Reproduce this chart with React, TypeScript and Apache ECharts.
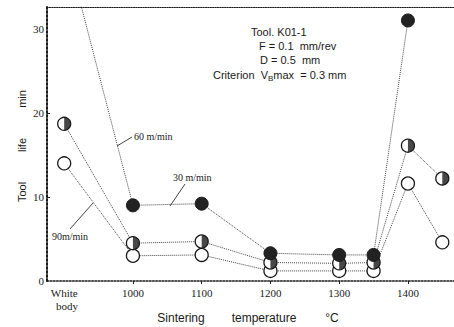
import React, { useEffect, useRef } from "react";
import * as echarts from "echarts";

// Sintering temperature (°C); 900 stands for "White body"
const temps = [900, 1000, 1100, 1200, 1300, 1350, 1400, 1450];
const xTickValues = [900, 1000, 1100, 1200, 1300, 1400];
const yTickValues = [0, 10, 20, 30];
// Tool life (min) for each cutting speed
const life30 = [40.5, 9.0, 9.2, 3.3, 3.1, 3.1, 31.0, null];
const life60 = [18.7, 4.5, 4.7, 2.2, 2.1, 2.2, 16.1, 12.2];
const life90 = [14.0, 3.0, 3.1, 1.2, 1.2, 1.2, 11.6, 4.6];

const pairs = (vals: (number | null)[]) =>
  temps.map((t, i) => [t, vals[i]]).filter((p) => p[1] !== null);

const INK = "#1a1a1a";
const LINE = "#444";

export default function App() {
  const ref = useRef<HTMLDivElement>(null);
  useEffect(() => {
    if (!ref.current) return;
    const chart = echarts.init(ref.current, null, { renderer: "svg" });
    const serif = "Liberation Serif";
    const sans = "Liberation Sans";
    const lineStyle = { color: LINE, width: 1, type: "dotted" as const };
    const txt = (text: string, x: number, y: number, size = 10, align = "left", rotation = 0, font = sans) => ({
      type: "text",
      x,
      y,
      rotation,
      silent: true,
      style: {
        text,
        fill: INK,
        font: `${size}px "${font}"`,
        align,
        verticalAlign: "middle",
        textAlign: align,
        textVerticalAlign: "middle",
      },
    });
    const leader = (x1: number, y1: number, x2: number, y2: number) => ({
      type: "line",
      silent: true,
      shape: { x1, y1, x2, y2 },
      style: { stroke: LINE, lineWidth: 1 },
    });
    chart.setOption({
      animation: false,
      backgroundColor: "#fff",
      grid: { left: 47, right: 0, top: 7, bottom: 46, outerBoundsMode: "none" },
      xAxis: [
        {
          type: "value",
          min: 875,
          max: 1467,
          splitLine: { show: false },
          axisLine: { show: true, lineStyle: { color: INK, width: 1.6, type: "dotted" } },
          axisTick: { show: true, customValues: xTickValues.slice(1), length: 3, lineStyle: { color: INK } },
          axisLabel: {
            customValues: xTickValues,
            color: INK,
            fontFamily: serif,
            fontSize: 11,
            margin: 5,
            lineHeight: 13,
            formatter: (v: number) => (v === 900 ? "White\n  body" : String(v)),
          },
        },
        {
          type: "value",
          position: "top",
          min: 875,
          max: 1467,
          splitLine: { show: false },
          axisLine: { show: true, lineStyle: { color: INK, width: 1.2, type: "dotted" } },
          axisTick: { show: false },
          axisLabel: { show: false },
        },
      ],
      yAxis: {
        type: "value",
        min: 0,
        max: 32.6,
        splitLine: { show: false },
        axisLine: { show: true, lineStyle: { color: INK, width: 2, type: "dotted" } },
        axisTick: { show: true, inside: true, customValues: [10, 20], length: 3, lineStyle: { color: INK } },
        axisLabel: {
          customValues: yTickValues,
          color: INK,
          fontFamily: serif,
          fontSize: 11,
          margin: 3,
        },
      },
      series: [
        {
          name: "90 m/min",
          type: "line",
          data: pairs(life90),
          symbol: "circle",
          symbolSize: 13,
          lineStyle,
          itemStyle: { color: "#fff", borderColor: INK, borderWidth: 1.3 },
          z: 2,
        },
        {
          name: "60 m/min",
          type: "line",
          data: pairs(life60),
          symbol: "circle",
          symbolSize: 13,
          lineStyle,
          itemStyle: { color: "#fff", borderColor: INK, borderWidth: 1.3 },
          z: 3,
        },
        {
          name: "60 m/min half",
          type: "scatter",
          data: pairs(life60),
          symbol: "path://M0,0 A10,10 0 0,1 0,20 Z",
          symbolSize: [6.5, 13],
          symbolOffset: [3.25, 0],
          itemStyle: { color: INK },
          z: 4,
        },
        {
          name: "30 m/min",
          type: "line",
          data: pairs(life30),
          symbol: "circle",
          symbolSize: 13,
          clip: true,
          lineStyle,
          itemStyle: { color: "#222", borderColor: INK, borderWidth: 1 },
          z: 5,
        },
      ],
      graphic: [
        txt("Tool", 22, 192, 11, "center", Math.PI / 2),
        txt("life", 22, 145, 11, "center", Math.PI / 2),
        txt("min", 22, 99, 11, "center", Math.PI / 2),
        txt("Sintering", 181, 318, 12, "center"),
        txt("temperature", 264, 318, 12, "center"),
        txt("°C", 332, 318, 12, "center"),
        txt("Tool. K01-1", 251, 32, 11, "left"),
        txt("F = 0.1  mm/rev", 259, 46, 11, "left"),
        txt("D = 0.5  mm", 260, 60, 11, "left"),
        {
          type: "text",
          x: 213,
          y: 75,
          silent: true,
          style: {
            text: "Criterion  V{s|B}max  = 0.3 mm",
            fill: INK,
            font: `11px "${sans}"`,
            align: "left",
            verticalAlign: "middle",
            textAlign: "left",
            textVerticalAlign: "middle",
            rich: { s: { fontSize: 8, fontFamily: sans, fill: INK, padding: [6, 0, 0, 0] } },
          },
        },
        txt("60 m/min", 134, 136, 10, "left", 0, serif),
        leader(117, 146, 132, 137),
        txt("30 m/min", 173, 177, 10, "left", 0, serif),
        leader(170, 206, 185, 184),
        txt("90m/min", 52, 236, 10, "left", 0, serif),
        leader(70, 229, 93, 203),
      ],
    });
    return () => chart.dispose();
  }, []);
  return (
    <div
      ref={ref}
      style={{ position: "fixed", left: 0, top: 0, width: 454, height: 327, background: "#fff" }}
    />
  );
}
